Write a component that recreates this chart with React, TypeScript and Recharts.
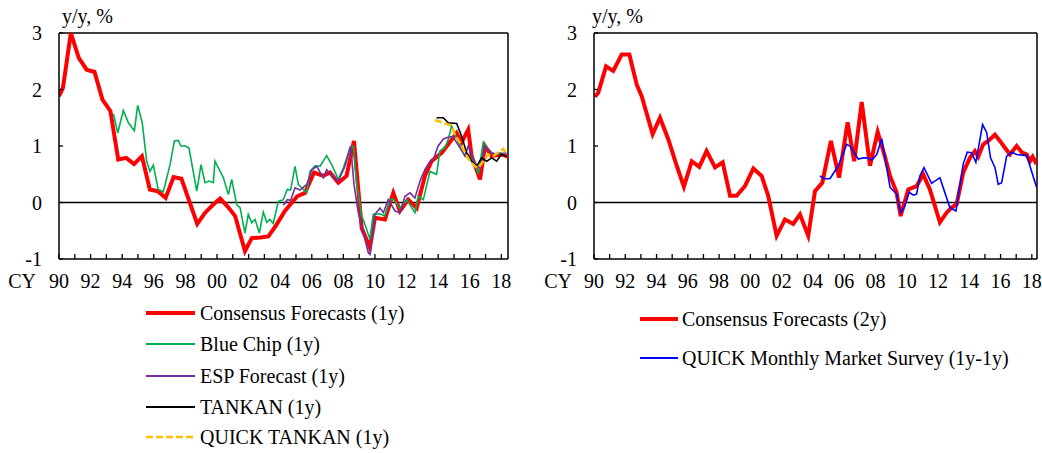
import { LineChart, Line, XAxis, YAxis, ReferenceLine } from 'recharts';

type Pt = [number, number];

const FONT = '"Liberation Serif", "Times New Roman", Times, serif';

const X_TICKS = [
  1990, 1991, 1992, 1993, 1994, 1995, 1996, 1997, 1998, 1999, 2000, 2001, 2002, 2003, 2004,
  2005, 2006, 2007, 2008, 2009, 2010, 2011, 2012, 2013, 2014, 2015, 2016, 2017, 2018,
];
const Y_TICKS = [-1, 0, 1, 2, 3];

// left panel
const consensus1y: Pt[] = [
  [1990.0, 1.88], [1990.25, 2.03], [1990.75, 3.0], [1991.25, 2.56], [1991.75, 2.35],
  [1992.25, 2.31], [1992.75, 1.82], [1993.25, 1.62], [1993.75, 0.76], [1994.25, 0.79],
  [1994.75, 0.68], [1995.25, 0.82], [1995.75, 0.23], [1996.25, 0.2], [1996.75, 0.08],
  [1997.25, 0.45], [1997.75, 0.42], [1998.75, -0.38], [1999.25, -0.18], [1999.75, -0.04],
  [2000.2, 0.07], [2000.7, -0.08], [2001.15, -0.24], [2001.77, -0.86], [2002.2, -0.63],
  [2002.75, -0.62], [2003.25, -0.6], [2003.75, -0.4], [2004.3, -0.15], [2004.6, -0.05],
  [2005.08, 0.11], [2005.57, 0.17], [2006.14, 0.53], [2006.73, 0.47], [2007.15, 0.53],
  [2007.68, 0.35], [2008.2, 0.47], [2008.67, 1.09], [2009.16, -0.45], [2009.68, -0.8],
  [2010.0, -0.27], [2010.63, -0.3], [2011.16, 0.17], [2011.58, -0.15], [2012.1, 0.05],
  [2012.64, -0.1], [2013.16, 0.47], [2013.58, 0.73], [2014.22, 0.88], [2014.64, 1.03],
  [2015.17, 1.23], [2015.48, 1.06], [2015.9, 1.29], [2016.12, 0.82], [2016.65, 0.41],
  [2016.96, 1.0], [2017.39, 0.82], [2018.02, 0.85], [2018.42, 0.81],
];

const blueChip1y: Pt[] = [
  [1993.44, 1.57], [1993.72, 1.23], [1994.07, 1.63], [1994.39, 1.41], [1994.77, 1.27],
  [1994.98, 1.72], [1995.27, 1.41], [1995.55, 0.73], [1995.76, 0.55], [1995.97, 0.66],
  [1996.28, 0.23], [1996.6, 0.19], [1997.03, 0.67], [1997.3, 1.09], [1997.55, 1.1],
  [1997.72, 1.0], [1998.02, 1.0], [1998.23, 0.96], [1998.72, 0.2], [1998.99, 0.67],
  [1999.24, 0.35], [1999.49, 0.38], [1999.77, 0.35], [1999.87, 0.73], [2000.4, 0.44],
  [2000.72, 0.14], [2000.93, 0.41], [2001.25, -0.04], [2001.46, -0.09], [2001.77, -0.54],
  [2001.98, -0.21], [2002.2, -0.36], [2002.41, -0.3], [2002.68, -0.54], [2002.93, -0.17],
  [2003.15, -0.35], [2003.35, -0.3], [2003.56, -0.37], [2003.88, 0.02], [2004.2, 0.05],
  [2004.45, 0.23], [2004.66, 0.22], [2004.94, 0.64], [2005.15, 0.32], [2005.36, 0.26],
  [2005.68, 0.17], [2005.89, 0.55], [2006.2, 0.65], [2006.52, 0.64], [2006.94, 0.83],
  [2007.26, 0.67], [2007.68, 0.41], [2008.0, 0.61], [2008.42, 0.97], [2008.63, 1.0],
  [2008.84, 0.35], [2009.16, -0.24], [2009.37, -0.39], [2009.68, -0.65], [2009.89, -0.21],
  [2010.3, -0.2], [2010.63, -0.24], [2010.95, 0.05], [2011.16, 0.06], [2011.58, -0.1],
  [2012.0, 0.05], [2012.53, -0.18], [2012.74, 0.11], [2013.06, 0.05], [2013.48, 0.55],
  [2013.9, 0.5], [2014.11, 0.91], [2014.43, 0.97], [2014.64, 1.12], [2014.85, 1.35],
  [2015.17, 1.14], [2015.38, 1.0], [2015.7, 0.82], [2015.9, 0.85], [2016.33, 0.67],
  [2016.54, 0.5], [2016.85, 1.06], [2017.17, 0.94], [2017.49, 0.85], [2017.91, 0.88],
  [2018.33, 0.82],
];

const esp1y: Pt[] = [
  [2004.2, -0.05], [2004.45, 0.05], [2004.66, 0.04], [2004.94, 0.26], [2005.25, 0.22],
  [2005.68, 0.32], [2006.0, 0.58], [2006.31, 0.64], [2006.73, 0.44], [2006.94, 0.58],
  [2007.2, 0.5], [2007.68, 0.38], [2008.1, 0.64], [2008.46, 1.0], [2008.67, 0.32],
  [2008.94, -0.18], [2009.58, -0.89], [2009.68, -0.92], [2010.0, -0.21], [2010.32, -0.1],
  [2010.53, -0.18], [2010.84, 0.05], [2011.27, -0.15], [2011.58, -0.18], [2011.9, 0.11],
  [2012.22, 0.17], [2012.53, 0.08], [2012.85, 0.38], [2013.16, 0.58], [2013.48, 0.73],
  [2013.69, 0.76], [2014.0, 1.0], [2014.32, 1.12], [2014.58, 1.15], [2014.92, 1.17],
  [2015.17, 1.06], [2015.7, 0.82], [2015.9, 1.0], [2016.33, 0.7], [2016.65, 0.61],
  [2016.96, 1.0], [2017.39, 0.88], [2017.8, 0.85], [2018.33, 0.88],
];

const tankan1y: Pt[] = [
  [2013.9, 1.5], [2014.32, 1.5], [2014.64, 1.41], [2015.17, 1.4], [2015.49, 1.17],
  [2015.8, 0.88], [2016.12, 0.73], [2016.43, 0.64], [2016.75, 0.79], [2017.07, 0.73],
  [2017.39, 0.79], [2017.7, 0.73], [2018.0, 0.85], [2018.33, 0.82],
];

const quickTankan1y: Pt[] = [
  [2013.8, 1.46], [2014.22, 1.42], [2014.64, 1.38], [2014.85, 1.35], [2015.06, 1.2],
  [2015.38, 1.06], [2015.7, 0.88], [2016.01, 0.73], [2016.33, 0.64], [2016.54, 0.61],
  [2016.85, 0.73], [2017.17, 0.85], [2017.49, 0.82], [2017.8, 0.89], [2018.12, 0.95],
  [2018.33, 0.85],
];

// right panel
const consensus2y: Pt[] = [
  [1990.06, 1.87], [1990.27, 1.94], [1990.77, 2.41], [1991.23, 2.33], [1991.77, 2.62],
  [1992.26, 2.62], [1992.73, 2.09], [1993.05, 1.88], [1993.75, 1.21], [1994.22, 1.5],
  [1994.75, 1.12], [1995.29, 0.65], [1995.75, 0.28], [1996.25, 0.73], [1996.73, 0.63],
  [1997.2, 0.91], [1997.74, 0.62], [1998.23, 0.71], [1998.7, 0.12], [1999.12, 0.12],
  [1999.65, 0.29], [2000.19, 0.6], [2000.72, 0.47], [2001.14, 0.12], [2001.68, -0.59],
  [2002.21, -0.3], [2002.74, -0.38], [2003.17, -0.21], [2003.7, -0.59], [2004.13, 0.2],
  [2004.6, 0.35], [2005.15, 1.09], [2005.67, 0.44], [2006.22, 1.42], [2006.64, 0.73],
  [2007.12, 1.78], [2007.65, 0.65], [2008.14, 1.25], [2008.6, 0.82], [2008.93, 0.47],
  [2009.35, 0.18], [2009.61, -0.24], [2010.1, 0.23], [2010.63, 0.29], [2011.05, 0.5],
  [2011.48, 0.23], [2012.12, -0.35], [2012.55, -0.18], [2012.87, -0.09], [2013.19, -0.03],
  [2013.61, 0.53], [2014.04, 0.79], [2014.36, 0.91], [2014.57, 0.81], [2014.89, 1.03],
  [2015.21, 1.09], [2015.64, 1.2], [2015.96, 1.09], [2016.28, 0.97], [2016.6, 0.85],
  [2017.03, 1.0], [2017.35, 0.89], [2017.67, 0.85], [2017.88, 0.73], [2018.05, 0.81],
  [2018.3, 0.68],
];

const quickMonthly: Pt[] = [
  [2004.45, 0.47], [2004.77, 0.42], [2005.09, 0.42], [2005.62, 0.65], [2006.16, 1.03],
  [2006.37, 1.0], [2006.9, 0.77], [2007.22, 0.79], [2007.54, 0.79], [2007.76, 0.75],
  [2008.08, 0.85], [2008.4, 1.13], [2008.93, 0.27], [2009.35, 0.15], [2009.61, -0.18],
  [2009.88, -0.06], [2010.16, 0.18], [2010.42, 0.13], [2010.63, 0.15], [2010.84, 0.47],
  [2011.1, 0.62], [2011.59, 0.34], [2012.12, 0.44], [2012.76, -0.09], [2013.15, -0.15],
  [2013.61, 0.68], [2013.87, 0.89], [2014.15, 0.88], [2014.42, 0.71], [2014.85, 1.38],
  [2015.11, 1.24], [2015.36, 0.79], [2015.64, 0.62], [2015.85, 0.32], [2016.07, 0.35],
  [2016.39, 0.82], [2016.71, 0.89], [2017.03, 0.85], [2017.67, 0.83], [2018.3, 0.27],
];

interface SeriesConfig {
  key: string;
  label: string;
  color: string;
  width: number;
  legendWidth: number;
  dash?: string;
  points: Pt[];
}

const LEFT_SERIES: SeriesConfig[] = [
  { key: 'cf1', label: 'Consensus Forecasts (1y)', color: '#FF0000', width: 4, legendWidth: 4, points: consensus1y },
  { key: 'bc', label: 'Blue Chip (1y)', color: '#00B050', width: 1.6, legendWidth: 2, points: blueChip1y },
  { key: 'esp', label: 'ESP Forecast (1y)', color: '#7030A0', width: 1.6, legendWidth: 2, points: esp1y },
  { key: 'tk', label: 'TANKAN (1y)', color: '#000000', width: 1.6, legendWidth: 2, points: tankan1y },
  { key: 'qtk', label: 'QUICK TANKAN (1y)', color: '#FFC000', width: 2.5, legendWidth: 2.5, dash: '7 3', points: quickTankan1y },
];

const RIGHT_SERIES: SeriesConfig[] = [
  { key: 'cf2', label: 'Consensus Forecasts (2y)', color: '#FF0000', width: 4, legendWidth: 4, points: consensus2y },
  { key: 'qm', label: 'QUICK Monthly Market Survey (1y-1y)', color: '#0000FF', width: 1.6, legendWidth: 2, points: quickMonthly },
];

const toRows = (pts: Pt[]) => pts.map(([x, v]) => ({ x, v }));

function XTick(props: any) {
  const { x, y, payload, cyGap } = props;
  const yr = payload.value as number;
  return (
    <g>
      <line x1={x} x2={x} y1={y} y2={y - 5} stroke="#000" strokeWidth={1.3} />
      {yr % 2 === 0 && (
        <text x={x} y={y + 29} textAnchor="middle" fontFamily={FONT} fontSize={20} fill="#000">
          {String(yr % 100).padStart(2, '0')}
        </text>
      )}
      {yr === 1990 && (
        <text x={x - cyGap} y={y + 29} textAnchor="end" fontFamily={FONT} fontSize={20} fill="#000">
          CY
        </text>
      )}
    </g>
  );
}

function YTick(props: any) {
  const { x, y, payload } = props;
  return (
    <g>
      <line x1={x} x2={x + 4} y1={y} y2={y} stroke="#000" strokeWidth={1.3} />
      <text x={x - 17} y={y + 7} textAnchor="end" fontFamily={FONT} fontSize={20} fill="#000">
        {payload.value}
      </text>
    </g>
  );
}

interface PanelProps {
  width: number;
  yAxisWidth: number;
  marginRight: number;
  xEnd: number;
  cyGap: number;
  series: SeriesConfig[];
}

function Panel({ width, yAxisWidth, marginRight, xEnd, cyGap, series }: PanelProps) {
  return (
    <LineChart width={width} height={300} margin={{ top: 33, right: marginRight, bottom: 11, left: 0 }}>
      <XAxis
        dataKey="x"
        type="number"
        domain={[1990, xEnd]}
        ticks={X_TICKS}
        interval={0}
        allowDataOverflow
        tickLine={false}
        tickSize={0}
        tickMargin={0}
        height={30}
        axisLine={{ stroke: '#000', strokeWidth: 1.5 }}
        tick={<XTick cyGap={cyGap} />}
      />
      <YAxis
        type="number"
        domain={[-1, 3]}
        ticks={Y_TICKS}
        interval={0}
        allowDataOverflow
        tickLine={false}
        tickSize={0}
        tickMargin={0}
        width={yAxisWidth}
        axisLine={{ stroke: '#000', strokeWidth: 1.5 }}
        tick={<YTick />}
      />
      <ReferenceLine y={0} stroke="#000" strokeWidth={1.5} />
      <ReferenceLine y={3} stroke="#000" strokeWidth={1.5} />
      <ReferenceLine x={xEnd} stroke="#000" strokeWidth={1.5} />
      {series.map((s) => (
        <Line
          key={s.key}
          data={toRows(s.points)}
          dataKey="v"
          type="linear"
          stroke={s.color}
          strokeWidth={s.width}
          strokeDasharray={s.dash}
          dot={false}
          activeDot={false}
          isAnimationActive={false}
        />
      ))}
    </LineChart>
  );
}

function LegendRows({ series, x1, x2, tx, rows }: { series: SeriesConfig[]; x1: number; x2: number; tx: number; rows: number[] }) {
  return (
    <>
      {series.map((s, i) => (
        <g key={s.key}>
          <line x1={x1} x2={x2} y1={rows[i]} y2={rows[i]} stroke={s.color} strokeWidth={s.legendWidth} strokeDasharray={s.dash} />
          <text x={tx} y={rows[i] + 7} fontFamily={FONT} fontSize={20} fill="#000">
            {s.label}
          </text>
        </g>
      ))}
    </>
  );
}

export default function App() {
  return (
    <div style={{ position: 'absolute', left: 0, top: 0, width: 1042, height: 453, background: '#fff' }}>
      <div style={{ position: 'absolute', left: 0, top: 0 }}>
        <Panel width={520} yAxisWidth={59} marginRight={12} xEnd={2018.42} cyGap={23} series={LEFT_SERIES} />
      </div>
      <div style={{ position: 'absolute', left: 520, top: 0 }}>
        <Panel width={522} yAxisWidth={74} marginRight={5} xEnd={2018.33} cyGap={22} series={RIGHT_SERIES} />
      </div>
      <svg width={1042} height={453} style={{ position: 'absolute', left: 0, top: 0, pointerEvents: 'none' }}>
        <text x={62} y={23} fontFamily={FONT} fontSize={20} fill="#000">y/y, %</text>
        <text x={592} y={23} fontFamily={FONT} fontSize={20} fill="#000">y/y, %</text>
        <LegendRows series={LEFT_SERIES} x1={146} x2={195} tx={200} rows={[313, 344, 376, 407, 437]} />
        <LegendRows series={RIGHT_SERIES} x1={640} x2={678} tx={682} rows={[319, 358]} />
      </svg>
    </div>
  );
}
